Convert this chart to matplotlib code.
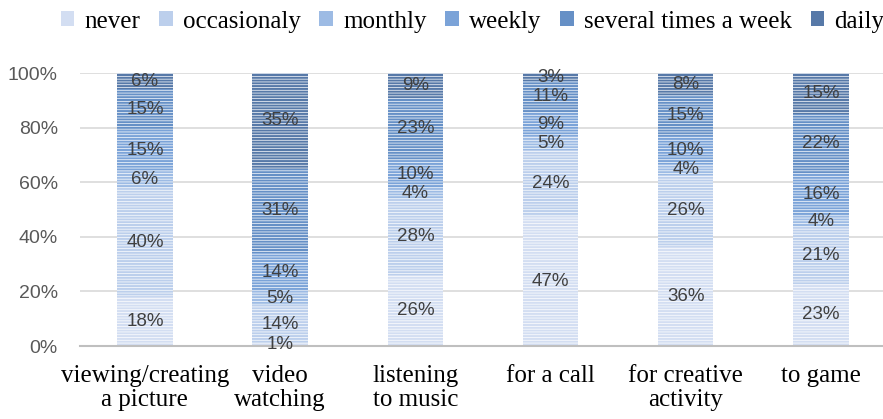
import numpy as np
import matplotlib
matplotlib.use("Agg")
import matplotlib.pyplot as plt
from matplotlib.patches import Patch

categories = ["viewing/creating\na picture", "video\nwatching", "listening\nto music",
              "for a call", "for creative\nactivity", "to game"]
series = ["never", "occasionaly", "monthly", "weekly", "several times a week", "daily"]
never = [18, 1, 26, 47, 36, 23]
occasionaly = [40, 14, 28, 24, 26, 21]
monthly = [6, 5, 4, 5, 4, 4]
weekly = [15, 14, 10, 9, 10, 16]
several = [15, 31, 23, 11, 15, 22]
daily = [6, 35, 9, 3, 8, 15]
colors = ["#d3def2", "#bccfec", "#9dbbe4", "#7ba3d8", "#6690c6", "#5779a8"]

plt.rcParams['hatch.linewidth'] = 0.5

data = np.array([never, occasionaly, monthly, weekly, several, daily], dtype=float)
share = data / data.sum(axis=0) * 100   # 100% stacked

fig = plt.figure(figsize=(8.83, 4.19), dpi=100)
# axes runs a bit past the right edge, like the cropped original
ax = fig.add_axes([80/883, 1-346/419, 808.6/883, 273/419])

x = np.arange(len(categories))
bottom = np.zeros(len(categories))
for i, name in enumerate(series):
    ax.bar(x, share[i], 0.41, bottom=bottom, color=colors[i], edgecolor="#ffffff",
           linewidth=0, hatch="------", zorder=2)
    for j in range(len(categories)):
        ax.text(x[j], bottom[j] + share[i][j] / 2, "%d%%" % data[i][j], ha="center",
                va="center", fontsize=13.5, color="#404040", family="Liberation Sans", zorder=3)
    bottom += share[i]

ax.set_xlim(-0.48, 5.5)
ax.set_ylim(0, 100)
ax.set_yticks(range(0, 101, 20))
ax.set_yticklabels(["%d%%" % v for v in range(0, 101, 20)], fontsize=14,
                   color="#595959", family="Liberation Sans")
ax.yaxis.grid(True, color="#d9d9d9", linewidth=1.2, zorder=0)
ax.set_axisbelow(True)
ax.set_xticks(x)
ax.set_xticklabels(categories, fontsize=18, family="Liberation Serif", linespacing=1.1)
ax.tick_params(axis="both", length=0)
ax.tick_params(axis="x", pad=14)
ax.tick_params(axis="y", pad=16)
for s in ["top", "right", "left"]:
    ax.spines[s].set_visible(False)
ax.spines["bottom"].set_color("#bfbfbf")
ax.spines["bottom"].set_linewidth(1.5)

handles = [Patch(facecolor=c, edgecolor="none") for c in colors]
fig.legend(handles, series, loc="upper center", bbox_to_anchor=(0.535, 1.028), ncol=6,
           frameon=False, prop={"family": "Liberation Serif", "size": 18},
           handlelength=0.55, handleheight=0.55, handletextpad=0.4, columnspacing=0.75)

fig.savefig("out.png", dpi=100)
